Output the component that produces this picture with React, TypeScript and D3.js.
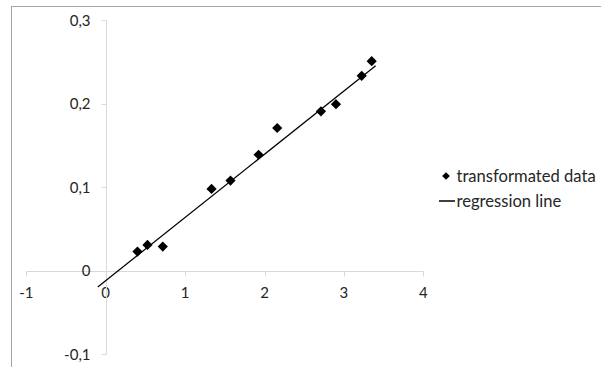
import { useEffect, useRef } from 'react';
import * as d3 from 'd3';

// transformed data points (x, y)
const xValues = [0.40, 0.526, 0.719, 1.333, 1.572, 1.926, 2.16, 2.711, 2.90, 3.224, 3.35];
const yValues = [0.023, 0.031, 0.029, 0.098, 0.108, 0.139, 0.171, 0.191, 0.1995, 0.2335, 0.251];

// regression line: y = slope * x + intercept, drawn over xRange
const slope = 0.0757;
const intercept = -0.0118;
const lineXRange = [-0.1, 3.4];

const xTicks = [-1, 0, 1, 2, 3, 4];
const yTicks = [-0.1, 0, 0.1, 0.2, 0.3];
const legendLabels = ['transformated data', 'regression line'];

const App = () => {
    const svgRef = useRef<SVGSVGElement>(null);

    useEffect(() => {
        const width = 601;
        const height = 367;
        const svg = d3.select(svgRef.current);
        svg.selectAll('*').remove();
        svg.attr('width', width).attr('height', height);

        const font = 'Lato, "Open Sans", sans-serif';
        const axisColor = '#d9d9d9';
        const textColor = '#262626';

        // chart frame
        svg.append('rect')
            .attr('x', 11.5).attr('y', 6.5)
            .attr('width', 700).attr('height', 500)
            .attr('fill', 'white')
            .attr('stroke', '#a6a6a6')
            .attr('stroke-width', 1);

        const x = d3.scaleLinear().domain([-1, 4]).range([26.3, 423.3]);
        const y = d3.scaleLinear().domain([-0.1, 0.3]).range([354.3, 20.3]);

        // Excel-style labels: decimal comma, plain hyphen minus
        const fmt = (v: number) => (v === 0 ? '0' : v.toFixed(1).replace('.', ','));

        // x axis (at y = 0)
        const gx = svg.append('g').attr('transform', `translate(0,${Math.round(y(0)) + 0.5})`);
        gx.append('line')
            .attr('x1', x(-1)).attr('x2', x(4))
            .attr('stroke', axisColor);
        gx.selectAll('.xt')
            .data(xTicks)
            .enter().append('line')
            .attr('x1', d => Math.round(x(d)) + 0.5).attr('x2', d => Math.round(x(d)) + 0.5)
            .attr('y1', 0).attr('y2', 5)
            .attr('stroke', axisColor);
        gx.selectAll('.xl')
            .data(xTicks)
            .enter().append('text')
            .attr('x', d => x(d))
            .attr('y', 21)
            .attr('dy', '.35em')
            .style('text-anchor', 'middle')
            .style('font-family', font)
            .style('font-size', '15px')
            .style('fill', textColor)
            .text(d => String(d));

        // y axis (at x = 0)
        const gy = svg.append('g').attr('transform', `translate(${Math.round(x(0)) + 0.5},0)`);
        gy.append('line')
            .attr('y1', y(0.3)).attr('y2', y(-0.1))
            .attr('stroke', axisColor);
        gy.selectAll('.yt')
            .data(yTicks)
            .enter().append('line')
            .attr('x1', -5).attr('x2', 0)
            .attr('y1', d => Math.round(y(d)) + 0.5).attr('y2', d => Math.round(y(d)) + 0.5)
            .attr('stroke', axisColor);
        gy.selectAll('.yl')
            .data(yTicks)
            .enter().append('text')
            .attr('x', -16)
            .attr('y', d => y(d))
            .attr('dy', '.35em')
            .style('text-anchor', 'end')
            .style('font-family', font)
            .style('font-size', '15px')
            .style('fill', textColor)
            .text(d => fmt(d));

        // regression line
        svg.append('line')
            .attr('x1', x(lineXRange[0])).attr('y1', y(slope * lineXRange[0] + intercept))
            .attr('x2', x(lineXRange[1])).attr('y2', y(slope * lineXRange[1] + intercept))
            .attr('stroke', 'black')
            .attr('stroke-width', 1.25);

        // data markers
        const diamond = d3.symbol().type(d3.symbolSquare).size(52);
        svg.selectAll('.pt')
            .data(xValues.map((v, i) => [v, yValues[i]]))
            .enter().append('path')
            .attr('d', diamond)
            .attr('transform', d => `translate(${x(d[0])},${y(d[1])}) rotate(45)`)
            .attr('fill', 'black');

        // legend
        const lg = svg.append('g').attr('transform', 'translate(439,176)');
        lg.append('path')
            .attr('d', d3.symbol().type(d3.symbolSquare).size(30))
            .attr('transform', 'translate(7,0) rotate(45)')
            .attr('fill', 'black');
        lg.append('line')
            .attr('x1', 0).attr('x2', 16)
            .attr('y1', 25).attr('y2', 25)
            .attr('stroke', 'black')
            .attr('stroke-width', 1.5);
        lg.selectAll('.lt')
            .data(legendLabels)
            .enter().append('text')
            .attr('x', 17.5)
            .attr('y', (d, i) => i * 25)
            .attr('dy', '.35em')
            .style('font-family', font)
            .style('font-size', '16.6px')
            .style('fill', textColor)
            .text(d => d);
    }, []);

    return (
        <svg ref={svgRef} style={{ position: 'absolute', left: 0, top: 0 }}></svg>
    );
};

export default App;
